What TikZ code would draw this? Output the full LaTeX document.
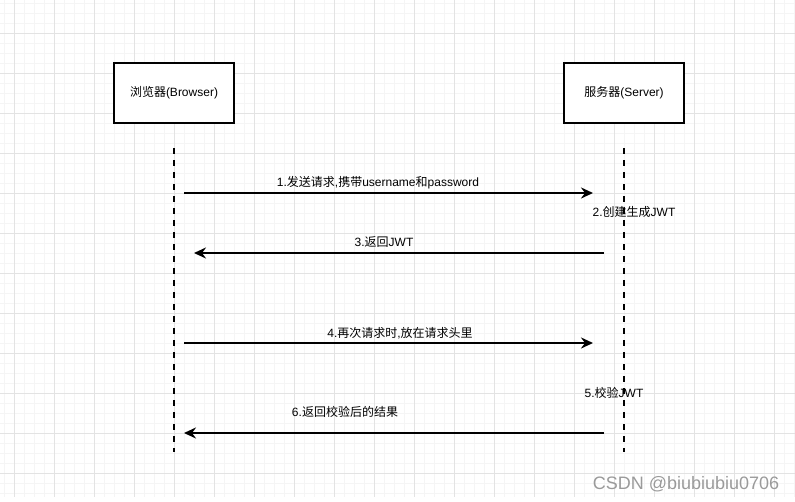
\documentclass[tikz,border=0pt]{standalone}
\usepackage{fontspec}
\setmainfont{Liberation Sans}
\newfontfamily\cjk{Noto Sans CJK SC}
\usetikzlibrary{arrows.meta}
\definecolor{gridminor}{HTML}{F5F5F5}
\definecolor{gridmajor}{HTML}{E3E3E3}
\definecolor{wmgray}{HTML}{9A9A9A}

\begin{document}
\begin{tikzpicture}[x=1pt, y=-1pt, font=\fontsize{12}{14}\selectfont,
    actor/.style={draw, line width=2pt, minimum width=120pt, minimum height=60pt, inner sep=0pt},
    life/.style={line width=2pt, dash pattern=on 6pt off 6pt},
    msg/.style={line width=2pt, -{Stealth[length=12pt, width=11pt, inset=4pt]}},
    label/.style={inner sep=0pt}]
  \useasboundingbox (0,0) rectangle (795,501);
  % grid
  \foreach \x in {4,14,...,794} \draw[gridminor, line width=0.6pt] (\x,0) -- (\x,497);
  \foreach \y in {3,13,...,493} \draw[gridminor, line width=0.6pt] (0,\y) -- (795,\y);
  \foreach \x in {14,54,...,794} \draw[gridmajor, line width=1pt] (\x,0) -- (\x,497);
  \foreach \y in {33,73,...,473} \draw[gridmajor, line width=1pt] (0,\y) -- (795,\y);

  \node[actor, fill=white] (browser) at (174,93) {{\cjk 浏览器}(Browser)};
  \node[actor, fill=white] (server) at (624,93) {{\cjk 服务器}(Server)};

  % lifelines
  \coordinate (browser top) at (174,148);
  \coordinate (browser end) at (174,452);
  \coordinate (server top) at (624,148);
  \coordinate (server end) at (624,452);
  \draw[life] (browser top) -- (browser end);
  \draw[life] (server top) -- (server end);

  % messages
  \coordinate (req from) at (184,193);
  \coordinate (req to) at (593,193);
  \coordinate (jwt from) at (604,253);
  \coordinate (jwt to) at (194,253);
  \coordinate (again from) at (184,343);
  \coordinate (again to) at (593,343);
  \coordinate (res from) at (604,433);
  \coordinate (res to) at (184,433);
  \draw[msg] (req from) -- (req to);
  \draw[msg] (jwt from) -- (jwt to);
  \draw[msg] (again from) -- (again to);
  \draw[msg] (res from) -- (res to);

  \node[label] (req label) at (378,183) {1.{\cjk 发送请求},{\cjk 携带}username{\cjk 和}password};
  \node[label] (create label) at (634,212) {2.{\cjk 创建生成}JWT};
  \node[label] (jwt label) at (384,242) {3.{\cjk 返回}JWT};
  \node[label] (again label) at (400,333) {4.{\cjk 再次请求时},{\cjk 放在请求头里}};
  \node[label] (check label) at (614,393) {5.{\cjk 校验}JWT};
  \node[label] (res label) at (345,412) {6.{\cjk 返回校验后的结果}};

  \node[label, text=wmgray, font=\fontsize{18}{20}\selectfont] (mark) at (686,484) {CSDN @biubiubiu0706};
\end{tikzpicture}
\end{document}
